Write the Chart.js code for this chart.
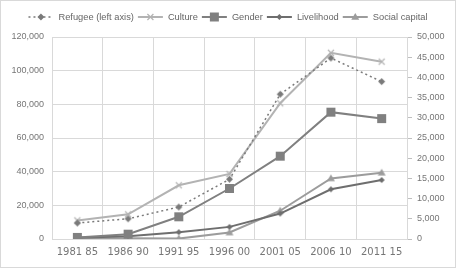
<!DOCTYPE html>
<html>
<head>
<meta charset="utf-8">
<script src="https://cdn.jsdelivr.net/npm/chart.js@4/dist/chart.umd.min.js"></script>
<style>
  html, body { margin: 0; padding: 0; background: #fff; }
  #wrap { width: 456px; height: 268px; position: relative; }
</style>
</head>
<body>
<div id="wrap"><canvas id="chart" width="456" height="268"></canvas></div>
<script>
// periods on the x axis
const categories = ['1981 85', '1986 90', '1991 95', '1996 00', '2001 05', '2006 10', '2011 15'];

// refugee numbers, left axis
const refugee = [9500, 12000, 19000, 35500, 86000, 107500, 93500];

// topic counts, right axis
const culture = [4600, 6100, 13300, 16100, 33600, 46100, 43900];
const gender = [400, 1200, 5500, 12500, 20500, 31400, 29800];
const livelihood = [300, 700, 1700, 3000, 6300, 12300, 14600];
const socialCapital = [200, 200, 100, 1600, 7000, 15000, 16400];

// axis ranges
const leftMax = 120000, leftStep = 20000;
const rightMax = 50000, rightStep = 5000;

const tickFont = { family: 'Liberation Sans', size: 9 };
const tickColor = '#767676';
const gridColor = '#d9d9d9';

function drawMarker(ctx, style, r, x, y, color) {
    ctx.save();
    ctx.setLineDash([]);
    ctx.fillStyle = color;
    ctx.strokeStyle = color;
    ctx.lineWidth = 1.2;
    ctx.beginPath();
    if (style === 'rect') {
        ctx.rect(x - r, y - r, r * 2, r * 2);
        ctx.fill();
    } else if (style === 'rectRot') {
        ctx.moveTo(x, y - r); ctx.lineTo(x + r, y); ctx.lineTo(x, y + r); ctx.lineTo(x - r, y);
        ctx.closePath();
        ctx.fill();
    } else if (style === 'triangle') {
        ctx.moveTo(x, y - r); ctx.lineTo(x + r, y + r * 0.7); ctx.lineTo(x - r, y + r * 0.7);
        ctx.closePath();
        ctx.fill();
    } else if (style === 'crossRot') {
        const d = r * 0.75;
        ctx.moveTo(x - d, y - d); ctx.lineTo(x + d, y + d);
        ctx.moveTo(x + d, y - d); ctx.lineTo(x - d, y + d);
        ctx.stroke();
    }
    ctx.restore();
}

// legend drawn as line + marker like the original
const lineLegend = {
    id: 'lineLegend',
    afterDraw(chart) {
        const ctx = chart.ctx;
        const sets = chart.data.datasets;
        ctx.save();
        ctx.font = '9.3px "Liberation Sans"';
        const seg = 25, gapText = 5, gapItem = 4;
        let total = 0;
        sets.forEach((ds, i) => {
            total += seg + gapText + ctx.measureText(ds.label).width + (i < sets.length - 1 ? gapItem : 0);
        });
        let x = (chart.width - total) / 2;
        const y = 17;
        sets.forEach(ds => {
            ctx.strokeStyle = ds.borderColor;
            ctx.lineWidth = ds.borderWidth;
            ctx.setLineDash(ds.borderDash || []);
            ctx.beginPath();
            ctx.moveTo(x, y);
            ctx.lineTo(x + seg, y);
            ctx.stroke();
            drawMarker(ctx, ds.legendStyle, ds.pointRadius, x + seg / 2, y, ds.borderColor);
            ctx.fillStyle = '#666666';
            ctx.textBaseline = 'middle';
            ctx.fillText(ds.label, x + seg + gapText, y);
            x += seg + gapText + ctx.measureText(ds.label).width + gapItem;
        });
        ctx.restore();
    }
};

// chart frame
const frame = {
    id: 'frame',
    beforeDraw(chart) {
        const ctx = chart.ctx;
        ctx.save();
        ctx.fillStyle = '#fff';
        ctx.fillRect(0, 0, chart.width, chart.height);
        ctx.strokeStyle = '#d9d9d9';
        ctx.lineWidth = 1;
        ctx.strokeRect(0.5, 0.5, chart.width - 1, chart.height - 1);
        ctx.restore();
    }
};

// marker images for the points
function markerCanvas(style, r, color) {
    const c = document.createElement('canvas');
    const s = Math.ceil(r * 2 + 4);
    c.width = s; c.height = s;
    drawMarker(c.getContext('2d'), style, r, s / 2, s / 2, color);
    return c;
}

function series(label, data, color, width, style, radius, axis, dash) {
    return {
        label: label,
        data: data,
        yAxisID: axis,
        borderColor: color,
        backgroundColor: color,
        borderWidth: width,
        borderDash: dash || [],
        tension: 0,
        pointStyle: markerCanvas(style, radius, color),
        legendStyle: style,
        pointRadius: radius,
        fill: false
    };
}

const datasets = [
    series('Refugee (left axis)', refugee, '#7a7a7a', 1.5, 'rectRot', 3.5, 'y', [2, 3]),
    series('Culture', culture, '#b3b3b3', 2, 'crossRot', 4, 'y1'),
    series('Gender', gender, '#808080', 2, 'rect', 4.5, 'y1'),
    series('Livelihood', livelihood, '#6e6e6e', 2, 'rectRot', 3, 'y1'),
    series('Social capital', socialCapital, '#9c9c9c', 2, 'triangle', 4, 'y1')
];

new Chart(document.getElementById('chart'), {
    type: 'line',
    data: {
        labels: categories,
        datasets: datasets
    },
    options: {
        responsive: false,
        animation: false,
        layout: { padding: { top: 37, left: 0, right: 0, bottom: 0 } },
        plugins: {
            legend: { display: false },
            tooltip: { enabled: false }
        },
        scales: {
            x: {
                offset: true,
                grid: { offset: true, color: gridColor, drawTicks: false },
                border: { color: gridColor },
                ticks: {
                    color: tickColor,
                    font: { family: 'DejaVu Sans', size: 10 },
                    padding: 7,
                    maxRotation: 0
                },
                afterFit(scale) { scale.height = 29; }
            },
            y: {
                position: 'left',
                min: 0,
                max: leftMax,
                grid: { color: gridColor, drawTicks: false },
                border: { color: gridColor },
                ticks: {
                    stepSize: leftStep,
                    color: tickColor,
                    font: tickFont,
                    padding: 8,
                    callback: v => v.toLocaleString('en-US')
                },
                afterFit(scale) { scale.width = 52; }
            },
            y1: {
                position: 'right',
                min: 0,
                max: rightMax,
                grid: { drawOnChartArea: false, color: '#bfbfbf', tickLength: 5 },
                border: { color: gridColor },
                ticks: {
                    stepSize: rightStep,
                    color: tickColor,
                    font: tickFont,
                    padding: 5,
                    callback: v => v.toLocaleString('en-US')
                },
                afterFit(scale) { scale.width = 49; }
            }
        }
    },
    plugins: [frame, lineLegend]
});
</script>
</body>
</html>
